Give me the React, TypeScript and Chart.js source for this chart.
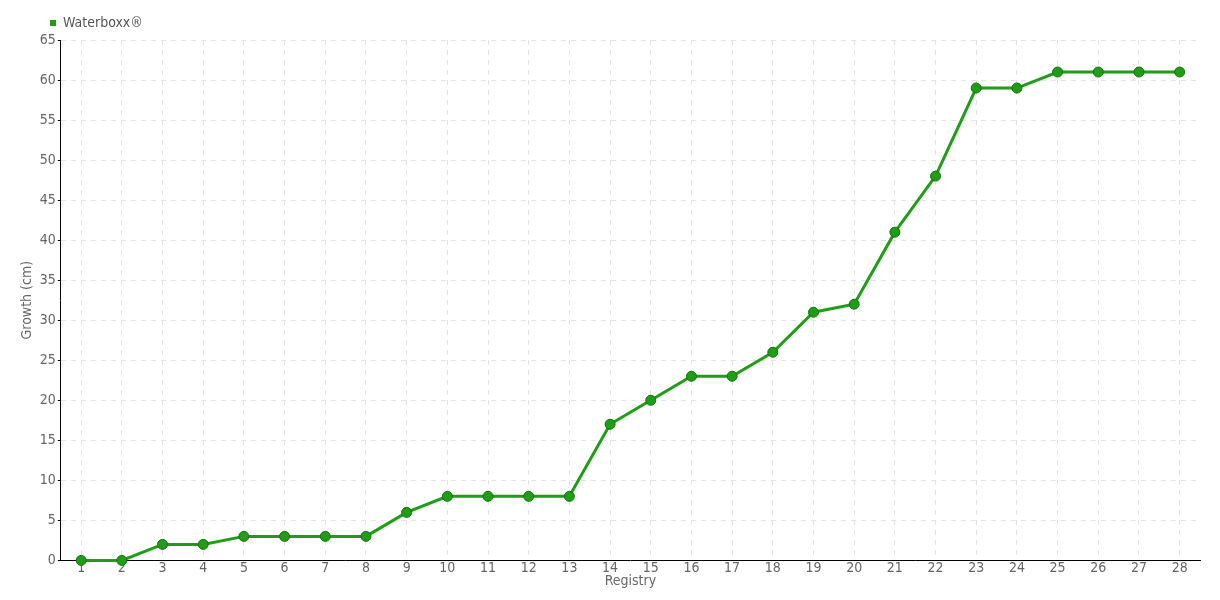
import React, { useEffect, useRef } from "react";
import { Chart, registerables } from "chart.js";

Chart.register(...registerables);

const registries: string[] = Array.from({ length: 28 }, (_, i) => String(i + 1));
const growth: number[] = [0, 0, 2, 2, 3, 3, 3, 3, 6, 8, 8, 8, 8, 17, 20, 23, 23, 26, 31, 32, 41, 48, 59, 59, 61, 61, 61, 61];
const seriesLabel = "Waterboxx®";
const yTitle = "Growth (cm)";
const xTitle = "Registry";

const FONT = "'DejaVu Sans', sans-serif";
const mkFont = (size: number) => ({ family: FONT, size, weight: "condensed" as any });

const legendShift = {
  id: "legendShift",
  beforeDraw(chart: any) {
    if (chart.legend) {
      const w = chart.legend.right - chart.legend.left;
      chart.legend.left = 36;
      chart.legend.right = 36 + w;
    }
  },
};

export default function App() {
  const ref = useRef<HTMLCanvasElement | null>(null);
  useEffect(() => {
    if (!ref.current) return;
    const chart = new Chart(ref.current, {
      type: "line",
      data: {
        labels: registries,
        datasets: [
          {
            label: seriesLabel,
            data: growth,
            borderColor: "#1e9e16",
            backgroundColor: "#1e9e16",
            borderWidth: 3,
            pointRadius: 5,
            pointHoverRadius: 5,
            pointBackgroundColor: "#1e9e16",
            pointBorderColor: "#17700f",
            pointBorderWidth: 1,
            tension: 0,
            fill: false,
            clip: false,
          },
        ],
      },
      plugins: [legendShift],
      options: {
        animation: false,
        responsive: true,
        maintainAspectRatio: false,
        layout: { padding: { left: 9, right: 12, top: 2, bottom: 0 } },
        plugins: {
          legend: {
            align: "start",
            fullSize: false,
            labels: {
              boxWidth: 6,
              boxHeight: 6,
              padding: 6,
              color: "#555",
              font: mkFont(14),
              generateLabels: (c: any) =>
                (Chart.defaults.plugins.legend.labels as any).generateLabels(c).map((l: any) => ({ ...l, lineWidth: 0 })),
            },
          },
          tooltip: { enabled: false },
        },
        scales: {
          x: {
            offset: true,
            grid: {
              color: "#e3e3e3",
              drawTicks: false,
              offset: false,
            },
            border: { color: "#000", width: 1, dash: [5, 5] },
            ticks: { color: "#666", font: mkFont(14), padding: 0, maxRotation: 0 },
            title: { display: true, text: xTitle, color: "#666", font: mkFont(14), padding: { top: -4, bottom: 0 } },
          },
          y: {
            min: 0,
            max: 65,
            grid: { color: "#e3e3e3", tickColor: "#000", tickLength: 3 },
            border: { color: "#000", width: 1, dash: [5, 5] },
            ticks: { stepSize: 5, color: "#666", font: mkFont(14), padding: 2 },
            title: { display: true, text: yTitle, color: "#666", font: mkFont(14), padding: 2 },
          },
        },
      },
    });
    return () => chart.destroy();
  }, []);
  return (
    <div style={{ width: 1204, height: 582, position: "relative" }}>
      <canvas ref={ref} />
    </div>
  );
}
